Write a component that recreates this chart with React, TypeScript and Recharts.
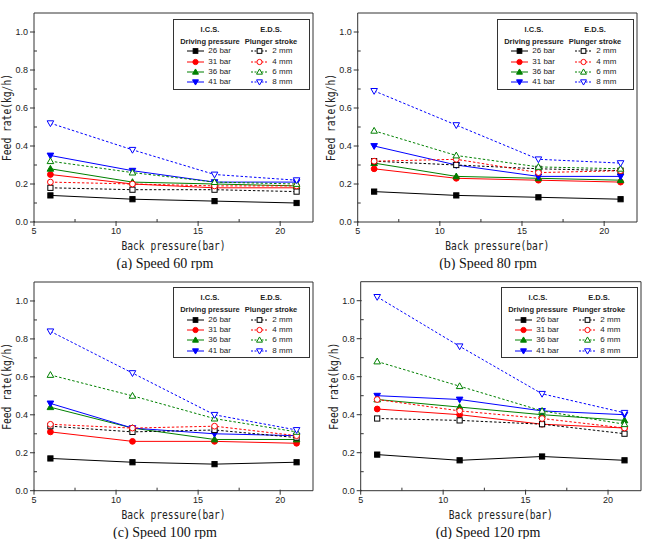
import React from 'react';
import { LineChart, Line, XAxis, YAxis, Legend, ReferenceLine } from 'recharts';

// Back pressure settings (bar)
const backPressure = [6, 11, 16, 21];

// Speed 60 rpm
const rpm60Ics26 = [0.14, 0.12, 0.11, 0.10];
const rpm60Ics31 = [0.25, 0.20, 0.18, 0.18];
const rpm60Ics36 = [0.28, 0.21, 0.20, 0.19];
const rpm60Ics41 = [0.35, 0.27, 0.21, 0.21];
const rpm60Eds2 = [0.18, 0.17, 0.17, 0.16];
const rpm60Eds4 = [0.21, 0.20, 0.19, 0.19];
const rpm60Eds6 = [0.32, 0.26, 0.21, 0.20];
const rpm60Eds8 = [0.52, 0.38, 0.25, 0.22];

// Speed 80 rpm
const rpm80Ics26 = [0.16, 0.14, 0.13, 0.12];
const rpm80Ics31 = [0.28, 0.23, 0.22, 0.21];
const rpm80Ics36 = [0.31, 0.24, 0.23, 0.22];
const rpm80Ics41 = [0.40, 0.30, 0.24, 0.24];
const rpm80Eds2 = [0.32, 0.30, 0.28, 0.27];
const rpm80Eds4 = [0.32, 0.33, 0.26, 0.27];
const rpm80Eds6 = [0.48, 0.35, 0.29, 0.28];
const rpm80Eds8 = [0.69, 0.51, 0.33, 0.31];

// Speed 100 rpm
const rpm100Ics26 = [0.17, 0.15, 0.14, 0.15];
const rpm100Ics31 = [0.31, 0.26, 0.26, 0.25];
const rpm100Ics36 = [0.44, 0.33, 0.27, 0.27];
const rpm100Ics41 = [0.46, 0.33, 0.30, 0.29];
const rpm100Eds2 = [0.34, 0.31, 0.32, 0.28];
const rpm100Eds4 = [0.35, 0.33, 0.34, 0.29];
const rpm100Eds6 = [0.61, 0.50, 0.38, 0.31];
const rpm100Eds8 = [0.84, 0.62, 0.40, 0.32];

// Speed 120 rpm
const rpm120Ics26 = [0.19, 0.16, 0.18, 0.16];
const rpm120Ics31 = [0.43, 0.40, 0.35, 0.33];
const rpm120Ics36 = [0.48, 0.44, 0.40, 0.37];
const rpm120Ics41 = [0.50, 0.48, 0.42, 0.40];
const rpm120Eds2 = [0.38, 0.37, 0.35, 0.30];
const rpm120Eds4 = [0.48, 0.42, 0.38, 0.33];
const rpm120Eds6 = [0.68, 0.55, 0.42, 0.35];
const rpm120Eds8 = [1.02, 0.76, 0.51, 0.41];

const xTicks = [5, 7.5, 10, 12.5, 15, 17.5, 20];
const xMajor = [5, 10, 15, 20];
const yTicks = [0, 0.1, 0.2, 0.3, 0.4, 0.5, 0.6, 0.7, 0.8, 0.9, 1.0];
const yMajor = [0, 0.2, 0.4, 0.6, 0.8, 1.0];

const seriesKeys = ['ics26', 'ics31', 'ics36', 'ics41', 'eds2', 'eds4', 'eds6', 'eds8'];
const seriesLabels = ['26 bar', '31 bar', '36 bar', '41 bar', '2 mm', '4 mm', '6 mm', '8 mm'];
const seriesColors = ['#000000', '#ff0000', '#008000', '#0000ff', '#000000', '#ff0000', '#008000', '#0000ff'];
const seriesShapes = ['square', 'circle', 'up', 'down', 'square', 'circle', 'up', 'down'];

const captions = ['(a) Speed 60 rpm', '(b) Speed 80 rpm', '(c) Speed 100 rpm', '(d) Speed 120 rpm'];

const panelValues = [
  [rpm60Ics26, rpm60Ics31, rpm60Ics36, rpm60Ics41, rpm60Eds2, rpm60Eds4, rpm60Eds6, rpm60Eds8],
  [rpm80Ics26, rpm80Ics31, rpm80Ics36, rpm80Ics41, rpm80Eds2, rpm80Eds4, rpm80Eds6, rpm80Eds8],
  [rpm100Ics26, rpm100Ics31, rpm100Ics36, rpm100Ics41, rpm100Eds2, rpm100Eds4, rpm100Eds6, rpm100Eds8],
  [rpm120Ics26, rpm120Ics31, rpm120Ics36, rpm120Ics41, rpm120Eds2, rpm120Eds4, rpm120Eds6, rpm120Eds8],
];

const AXIS = '#333';
const SANS = '"Liberation Sans", Arial, sans-serif';

function Marker({ cx, cy, shape, color, filled, scale = 1 }: any) {
  if (cx == null || cy == null) return null;
  const fill = filled ? color : '#ffffff';
  if (shape === 'square') {
    const s = 2.6 * scale;
    return <rect x={cx - s} y={cy - s} width={2 * s} height={2 * s} fill={fill} stroke={color} strokeWidth={1} />;
  }
  if (shape === 'circle') {
    return <circle cx={cx} cy={cy} r={2.9 * scale} fill={fill} stroke={color} strokeWidth={1} />;
  }
  const h1 = 3.4 * scale;
  const h2 = 2.4 * scale;
  const w = 3.3 * scale;
  if (shape === 'up') {
    return (
      <polygon
        points={`${cx},${cy - h1} ${cx + w},${cy + h2} ${cx - w},${cy + h2}`}
        fill={fill}
        stroke={color}
        strokeWidth={1}
      />
    );
  }
  return (
    <polygon
      points={`${cx},${cy + h1} ${cx + w},${cy - h2} ${cx - w},${cy - h2}`}
      fill={fill}
      stroke={color}
      strokeWidth={1}
    />
  );
}

function XTick({ x, y, payload }: any) {
  const major = xMajor.includes(payload.value);
  return (
    <g>
      {major ? (
        <line x1={x} y1={y - 1} x2={x} y2={y + 4} stroke={AXIS} strokeWidth={1} />
      ) : (
        <line x1={x} y1={y} x2={x} y2={y - 3} stroke={AXIS} strokeWidth={1} />
      )}
      {major && (
        <text x={x} y={y + 12} textAnchor="middle" fontFamily={SANS} fontSize={9} fill="#222">
          {payload.value}
        </text>
      )}
    </g>
  );
}

function YTick({ x, y, payload }: any) {
  const v = Math.round(payload.value * 10) / 10;
  const major = yMajor.some((m) => Math.abs(m - v) < 1e-6);
  return (
    <g>
      {major ? (
        <line x1={x + 1} y1={y} x2={x - 4} y2={y} stroke={AXIS} strokeWidth={1} />
      ) : (
        <line x1={x} y1={y} x2={x + 3} y2={y} stroke={AXIS} strokeWidth={1} />
      )}
      {major && (
        <text x={x - 6} y={y + 3.2} textAnchor="end" fontFamily={SANS} fontSize={9} fill="#222">
          {v.toFixed(1)}
        </text>
      )}
    </g>
  );
}

function LegendIcon({ color, shape, filled, dashed }: any) {
  return (
    <svg width={17} height={8} style={{ position: 'absolute', left: 0, top: 0 }}>
      <line x1={0} y1={4} x2={17} y2={4} stroke={color} strokeWidth={1} strokeDasharray={dashed ? '2 1.5' : undefined} />
      <Marker cx={8.5} cy={4} shape={shape} color={color} filled={filled} scale={0.9} />
    </svg>
  );
}

function LegendBox() {
  const rowTop = (i: number) => 26.3 + i * 10.33;
  return (
    <div
      style={{
        position: 'relative',
        width: 137,
        height: 71,
        border: `1px solid ${AXIS}`,
        background: '#fff',
        boxSizing: 'border-box',
        fontFamily: SANS,
        fontSize: 8,
        color: '#222',
        lineHeight: '10px',
      }}
    >
      <div style={{ position: 'absolute', left: -1, width: 74, top: 4, textAlign: 'center', fontWeight: 'bold', fontSize: 7.5, lineHeight: '12px', whiteSpace: 'nowrap' }}>
        I.C.S.
        <br />
        Driving pressure
      </div>
      <div style={{ position: 'absolute', left: 61, width: 72, top: 4, textAlign: 'center', fontWeight: 'bold', fontSize: 7.5, lineHeight: '12px', whiteSpace: 'nowrap' }}>
        E.D.S.
        <br />
        Plunger stroke
      </div>
      {seriesKeys.map((k, i) => {
        const col = i < 4 ? 0 : 1;
        const row = i % 4;
        const iconLeft = col === 0 ? 13.3 : 77.3;
        const textLeft = col === 0 ? 34.3 : 98.3;
        return (
          <React.Fragment key={k}>
            <div style={{ position: 'absolute', left: iconLeft, top: rowTop(row) + 1, width: 17, height: 8 }}>
              <LegendIcon color={seriesColors[i]} shape={seriesShapes[i]} filled={i < 4} dashed={i >= 4} />
            </div>
            <div style={{ position: 'absolute', left: textLeft, top: rowTop(row), whiteSpace: 'nowrap' }}>{seriesLabels[i]}</div>
          </React.Fragment>
        );
      })}
    </div>
  );
}

function Panel({ index, width, height, margin, legendPos, captionX }: any) {
  const values = panelValues[index];
  const data = backPressure.map((bp, j) => {
    const row: any = { bp };
    seriesKeys.forEach((k, i) => {
      row[k] = values[i][j];
    });
    return row;
  });

  const xLabel = (props: any) => {
    const vb = props.viewBox || {};
    const cx = vb.x + vb.width / 2;
    return (
      <g>
        <text
          x={cx}
          y={vb.y + 28}
          textAnchor="middle"
          fontFamily='"DejaVu Sans Mono", monospace'
          fontSize={11.5}
          textLength={104}
          lengthAdjust="spacingAndGlyphs"
          fill="#222"
        >
          Back pressure(bar)
        </text>
        <text x={captionX} y={vb.y + 46} textAnchor="middle" fontFamily='"Liberation Serif", "Times New Roman", serif' fontSize={14} fill="#111">
          {captions[index]}
        </text>
      </g>
    );
  };

  const yLabel = (props: any) => {
    const vb = props.viewBox || {};
    const px = vb.x + vb.width - 23;
    const py = vb.y + vb.height / 2;
    return (
      <text
        x={px}
        y={py}
        transform={`rotate(-90, ${px}, ${py})`}
        textAnchor="middle"
        fontFamily='"DejaVu Sans Mono", monospace'
        fontSize={11.5}
        textLength={87}
        lengthAdjust="spacingAndGlyphs"
        fill="#222"
      >
        Feed rate(kg/h)
      </text>
    );
  };

  return (
    <LineChart width={width} height={height} data={data} margin={margin}>
      <XAxis
        dataKey="bp"
        type="number"
        domain={[5, 22]}
        ticks={xTicks}
        interval={0}
        tickSize={0}
        tickMargin={0}
        tickLine={false}
        tick={<XTick />}
        height={20}
        axisLine={{ stroke: AXIS, strokeWidth: 1 }}
        allowDataOverflow
        label={{ content: xLabel }}
      />
      <YAxis
        type="number"
        domain={[0, 1.1]}
        ticks={yTicks}
        interval={0}
        tickSize={0}
        tickMargin={0}
        tickLine={false}
        tick={<YTick />}
        width={30}
        axisLine={{ stroke: AXIS, strokeWidth: 1 }}
        allowDataOverflow
        label={{ content: yLabel }}
      />
      <ReferenceLine y={1.1} stroke={AXIS} strokeWidth={1} />
      <ReferenceLine x={22} stroke={AXIS} strokeWidth={1} />
      {seriesKeys.map((k, i) => (
        <Line
          key={k}
          dataKey={k}
          name={seriesLabels[i]}
          type="linear"
          stroke={seriesColors[i]}
          strokeWidth={1}
          strokeDasharray={i >= 4 ? '2.5 2' : undefined}
          isAnimationActive={false}
          activeDot={false}
          dot={(p: any) => (
            <Marker key={`${k}-${p.index}`} cx={p.cx} cy={p.cy} shape={seriesShapes[i]} color={seriesColors[i]} filled={i < 4} />
          )}
        />
      ))}
      <Legend
        layout="horizontal"
        verticalAlign="middle"
        align="center"
        content={() => <LegendBox />}
        wrapperStyle={{ position: 'absolute', left: legendPos.left, top: legendPos.top, width: 137, height: 71 }}
      />
    </LineChart>
  );
}

export default function App() {
  return (
    <div style={{ position: 'absolute', left: 0, top: 0, width: 649, height: 539, background: '#fff' }}>
      <div style={{ position: 'absolute', left: 0, top: 0 }}>
        <Panel index={0} width={325} height={270} margin={{ top: 13, right: 12, bottom: 28, left: 4 }} legendPos={{ left: 173, top: 19 }} captionX={165} />
      </div>
      <div style={{ position: 'absolute', left: 325, top: 0 }}>
        <Panel index={1} width={324} height={270} margin={{ top: 13, right: 12, bottom: 28, left: 2.7 }} legendPos={{ left: 172, top: 19 }} captionX={163} />
      </div>
      <div style={{ position: 'absolute', left: 0, top: 270 }}>
        <Panel index={2} width={325} height={269} margin={{ top: 12, right: 12, bottom: 28.3, left: 4 }} legendPos={{ left: 173, top: 17.3 }} captionX={165} />
      </div>
      <div style={{ position: 'absolute', left: 325, top: 270 }}>
        <Panel index={3} width={324} height={269} margin={{ top: 11.7, right: 8, bottom: 28.3, left: 5.7 }} legendPos={{ left: 176, top: 17.3 }} captionX={163} />
      </div>
    </div>
  );
}
